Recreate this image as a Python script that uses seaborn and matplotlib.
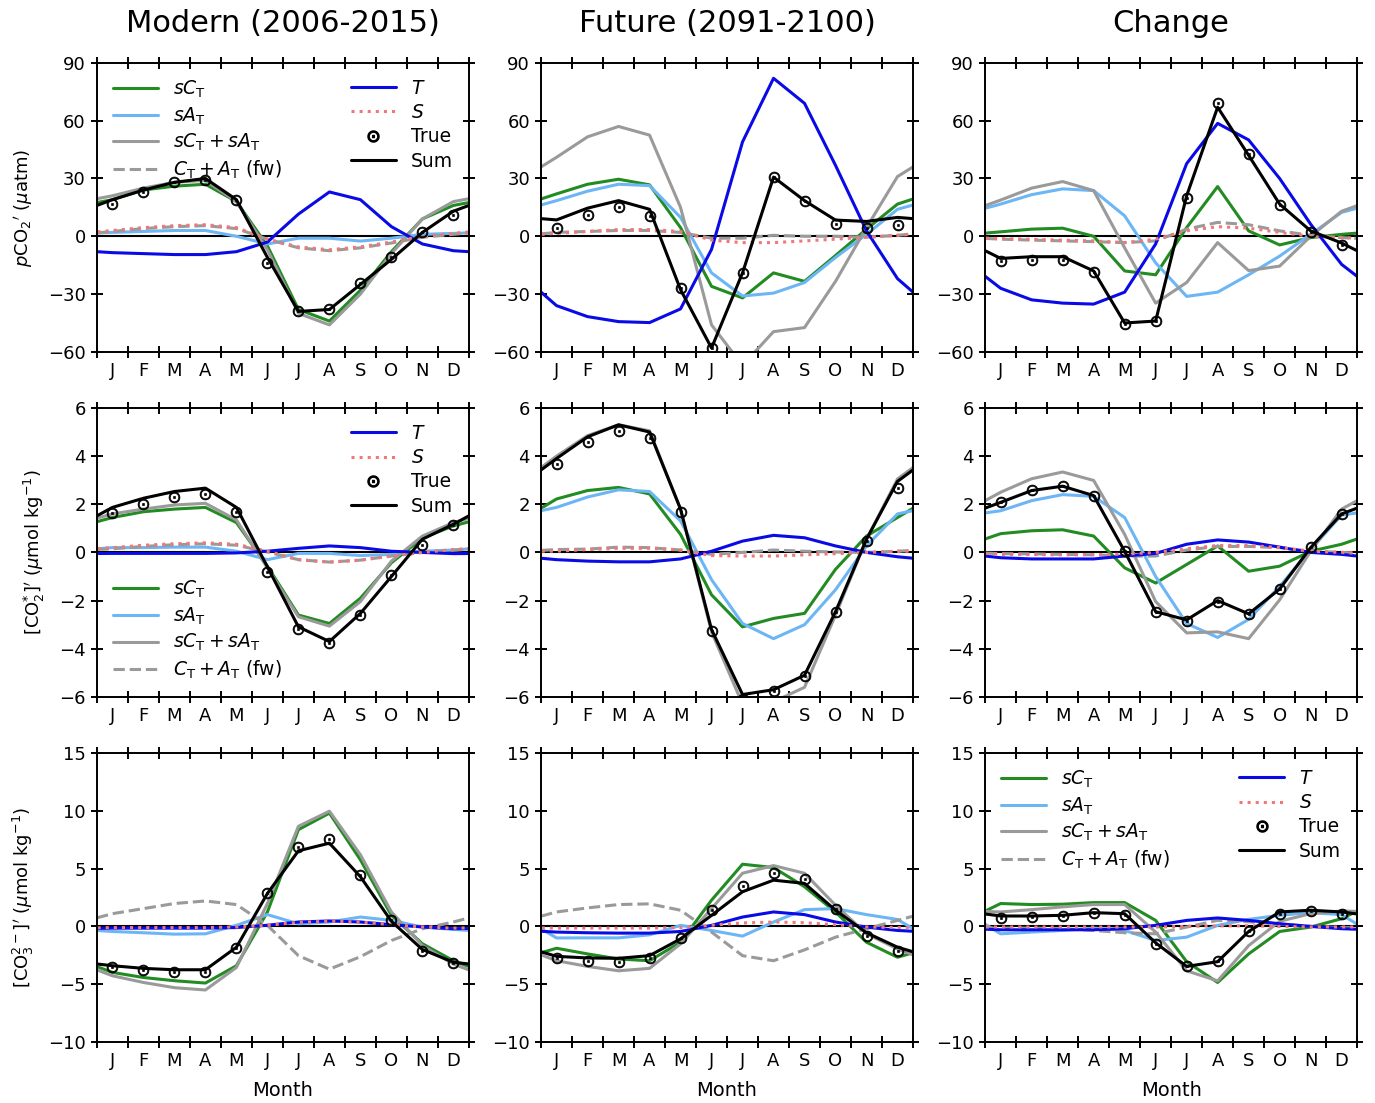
"""
Seasonal decomposition of pCO2', [CO2*]' and [CO3 2-]' anomalies:
Modern (2006-2015), Future (2091-2100) and their change.
"""

import numpy as np
import matplotlib
matplotlib.use('Agg')
import matplotlib.pyplot as plt
import seaborn as sns
from matplotlib.lines import Line2D
from matplotlib.ticker import FixedLocator, NullFormatter

sns.set_style('ticks')
plt.rcParams['font.family'] = ['DejaVu Sans']
plt.rcParams['mathtext.fontset'] = 'dejavusans'
plt.rcParams['axes.linewidth'] = 1.4
for key in ['text.color', 'axes.labelcolor', 'xtick.color', 'ytick.color', 'axes.edgecolor']:
    plt.rcParams[key] = 'black'

MONTHS = ['J', 'F', 'M', 'A', 'M', 'J', 'J', 'A', 'S', 'O', 'N', 'D']
COLUMN_TITLES = ['Modern (2006-2015)', 'Future (2091-2100)', 'Change']

# ---- pCO2' (uatm) ----
PCO2_MODERN = dict(
    sct=[19, 24, 26, 27, 18, -5, -38, -44, -28, -8, 9, 16],
    sat=[2, 2.5, 3, 3, 0, -4, -1, -1, -2.5, -1, 1, 1.5],
    both=[21, 25, 28, 29, 18, -7, -40, -46, -30, -9, 9, 18],
    fw=[2.5, 4, 5, 5.5, 4, -1.5, -6, -7.5, -6, -3.5, -0.5, 1],
    T=[-8.5, -9, -9.5, -9.5, -8, -3, 11.5, 23, 19, 5, -4, -7.5],
    S=[3, 4.5, 5.5, 6, 4.5, -1.5, -5.5, -7, -5.5, -3, 0, 1.5],
    true=[17, 23, 28, 29, 19, -14, -39, -38, -24, -11, 2, 11],
    sum=[19, 24, 28, 30, 19, -11, -39, -38, -25, -12, 2, 13],
)
PCO2_FUTURE = dict(
    sct=[22, 27, 29.6, 26.7, 4.5, -26, -32, -19, -23.4, -10, 3.7, 16.7],
    sat=[18.5, 23.4, 27, 26.3, 9.8, -19, -31, -29.5, -24, -11, 1, 14],
    both=[41, 51.6, 57, 52.5, 15, -46, -67, -49.5, -47.4, -23.4, 4.5, 31],
    fw=[2, 2.5, 3, 3, 2, -1, -1, 0.5, 0, 0, -0.5, 0.5],
    T=[-36, -41.7, -44.3, -44.8, -37.7, -6.8, 49, 82, 69, 36.8, 2.8, -22],
    S=[1.5, 2.5, 3.5, 3.5, 2.5, -2, -3.3, -3.3, -2.4, -1.5, -0.5, 0.5],
    true=[4.5, 11, 15.3, 10.3, -27, -58, -19, 30.7, 18.3, 6.3, 4.2, 6],
    sum=[8.5, 14.6, 18.5, 14, -27.7, -58, -19, 30.7, 18.5, 8.4, 7.7, 9.8],
)
PCO2_CHANGE = dict(
    sct=[2.3, 3.7, 4.2, 0, -18, -20, 4.5, 25.8, 2.8, -4.5, -0.7, 1],
    sat=[16.7, 21.6, 24.6, 23.7, 10.6, -13.8, -31.2, -29, -20, -10.3, 1, 12.4],
    both=[18.8, 25, 28.4, 23.7, -6, -34.7, -24, -3.3, -17.8, -15.5, 0, 13],
    fw=[-1.5, -2, -2.4, -2.8, -3.3, -2.4, 3.7, 7.2, 6, 2.8, 0.5, -0.7],
    T=[-27, -33, -34.7, -35.2, -29, -4, 37.7, 58.6, 50, 30, 6.3, -14.6],
    S=[-1.2, -1.6, -2, -2.4, -3.3, -1.5, 2.8, 5, 4.2, 2, 0, -0.7],
    true=[-13, -12.4, -12.4, -18.7, -45.7, -43.8, 20, 69, 42.5, 16.4, 2.4, -4.7],
    sum=[-11.5, -10.6, -10.6, -18, -45, -44, 21, 67, 42, 16.7, 2.8, -3.5],
)

# ---- [CO2*]' (umol/kg) ----
CO2_MODERN = dict(
    sct=[1.45, 1.69, 1.8, 1.87, 1.24, -0.57, -2.6, -2.95, -1.9, -0.43, 0.6, 1.1],
    sat=[0.2, 0.2, 0.22, 0.22, 0.05, -0.3, -0.04, -0.04, -0.13, -0.08, 0.05, 0.1],
    both=[1.6, 1.8, 1.97, 2.04, 1.35, -0.64, -2.67, -3.06, -2.04, -0.36, 0.68, 1.24],
    fw=[0.15, 0.25, 0.32, 0.36, 0.3, 0.02, -0.3, -0.4, -0.32, -0.15, 0, 0.1],
    T=[-0.04, -0.04, -0.04, -0.04, -0.02, 0.05, 0.17, 0.27, 0.2, 0.05, 0, -0.05],
    S=[0.2, 0.3, 0.36, 0.4, 0.34, 0.05, -0.3, -0.4, -0.32, -0.15, 0, 0.12],
    true=[1.62, 2.0, 2.32, 2.42, 1.66, -0.82, -3.17, -3.74, -2.6, -0.95, 0.31, 1.13],
    sum=[1.87, 2.25, 2.53, 2.67, 1.87, -0.6, -3.09, -3.7, -2.53, -1.0, 0.55, 1.17],
)
CO2_FUTURE = dict(
    sct=[2.22, 2.57, 2.7, 2.43, 0.75, -1.76, -3.09, -2.74, -2.53, -0.7, 0.68, 1.45],
    sat=[1.87, 2.3, 2.6, 2.53, 1.31, -1.13, -2.95, -3.58, -3.0, -1.55, 0.27, 1.6],
    both=[4.0, 4.85, 5.3, 5.05, 1.8, -3.3, -6.3, -6.2, -5.6, -2.6, 0.55, 3.05],
    fw=[0.12, 0.14, 0.22, 0.2, 0.1, -0.08, 0, 0.1, 0.05, 0.02, 0, 0.05],
    T=[-0.3, -0.36, -0.39, -0.39, -0.27, 0.05, 0.47, 0.71, 0.61, 0.27, 0, -0.18],
    S=[0.05, 0.12, 0.17, 0.17, 0.1, -0.13, -0.15, -0.15, -0.1, -0.05, 0, 0.05],
    true=[3.69, 4.57, 5.06, 4.76, 1.66, -3.27, -6.1, -5.77, -5.15, -2.49, 0.47, 2.67],
    sum=[3.9, 4.8, 5.3, 5.0, 1.8, -3.2, -5.9, -5.7, -5.1, -2.46, 0.55, 2.95],
)
CO2_CHANGE = dict(
    sct=[0.78, 0.9, 0.94, 0.68, -0.64, -1.27, -0.5, 0.27, -0.78, -0.57, 0.05, 0.34],
    sat=[1.73, 2.15, 2.4, 2.33, 1.45, -1.0, -2.95, -3.53, -2.78, -1.41, 0.12, 1.55],
    both=[2.5, 3.06, 3.34, 2.99, 0.75, -2.04, -3.34, -3.3, -3.58, -1.97, 0.05, 1.8],
    fw=[-0.05, -0.06, -0.08, -0.1, -0.15, -0.15, 0.1, 0.25, 0.25, 0.2, 0.05, 0],
    T=[-0.22, -0.27, -0.27, -0.27, -0.15, -0.04, 0.34, 0.52, 0.43, 0.22, 0, -0.08],
    S=[-0.08, -0.09, -0.1, -0.09, -0.07, 0, 0.15, 0.29, 0.29, 0.2, 0.05, 0],
    true=[2.08, 2.6, 2.75, 2.33, 0.05, -2.49, -2.84, -2.04, -2.57, -1.52, 0.22, 1.6],
    sum=[2.08, 2.57, 2.75, 2.36, 0.05, -2.46, -2.8, -2.0, -2.55, -1.52, 0.2, 1.6],
)

# ---- [CO3 2-]' (umol/kg) ----
CO3_MODERN = dict(
    sct=[-3.98, -4.42, -4.7, -4.9, -3.4, 1.25, 8.37, 9.8, 5.76, 0.96, -1.5, -2.97],
    sat=[-0.44, -0.55, -0.67, -0.64, 0.09, 1.02, 0.23, 0.38, 0.81, 0.52, -0.06, -0.26],
    both=[-4.27, -4.85, -5.3, -5.5, -3.55, 1.98, 8.66, 9.97, 6.2, 1.25, -1.66, -3.26],
    fw=[1.1, 1.54, 1.98, 2.2, 1.89, 0.09, -2.53, -3.7, -2.62, -1.22, -0.2, 0.38],
    T=[-0.15, -0.15, -0.15, -0.15, -0.1, 0.1, 0.38, 0.47, 0.38, 0.15, -0.05, -0.2],
    S=[-0.1, -0.1, -0.1, -0.1, -0.05, 0.1, 0.35, 0.45, 0.38, 0.15, -0.05, -0.15],
    true=[-3.55, -3.78, -3.92, -3.92, -1.86, 2.9, 6.86, 7.56, 4.45, 0.52, -2.1, -3.17],
    sum=[-3.4, -3.63, -3.75, -3.75, -1.8, 2.85, 6.54, 7.2, 4.3, 0.44, -2.0, -3.1],
)
CO3_FUTURE = dict(
    sct=[-1.89, -2.38, -2.82, -2.97, -1.37, 2.27, 5.38, 5.09, 3.43, 1.25, -1.37, -2.67],
    sat=[-1.0, -0.99, -0.99, -0.73, 0.09, -0.35, -0.84, 0.38, 1.45, 1.54, 1.02, 0.6],
    both=[-2.97, -3.46, -3.84, -3.63, -1.51, 1.54, 4.6, 5.26, 4.6, 1.83, -0.64, -1.95],
    fw=[1.25, 1.6, 1.89, 1.95, 1.4, -0.49, -2.53, -2.97, -2.03, -0.93, -0.2, 0.52],
    T=[-0.49, -0.55, -0.58, -0.58, -0.44, 0.09, 0.81, 1.25, 1.02, 0.38, -0.06, -0.35],
    S=[-0.15, -0.15, -0.15, -0.15, -0.1, 0.1, 0.3, 0.38, 0.32, 0.15, -0.05, -0.1],
    true=[-2.76, -2.97, -3.05, -2.73, -0.99, 1.4, 3.49, 4.65, 4.1, 1.54, -0.84, -2.09],
    sum=[-2.59, -2.73, -2.76, -2.53, -1.08, 0.96, 3.0, 4.0, 3.72, 1.4, -0.55, -1.8],
)
CO3_CHANGE = dict(
    sct=[1.98, 1.89, 1.92, 2.06, 2.06, 0.52, -3.05, -4.85, -2.38, -0.44, -0.06, 0.67],
    sat=[-0.64, -0.49, -0.35, -0.15, -0.35, -1.22, -0.93, 0.09, 0.61, 0.96, 1.19, 1.02],
    both=[1.25, 1.45, 1.69, 1.89, 1.89, -0.49, -3.84, -4.71, -1.66, 0.44, 1.1, 1.34],
    fw=[-0.15, -0.15, -0.2, -0.35, -0.55, -0.64, -0.06, 0.52, 0.4, 0.2, 0, -0.1],
    T=[-0.29, -0.29, -0.29, -0.29, -0.2, 0.09, 0.52, 0.73, 0.52, 0.23, 0, -0.2],
    S=[-0.05, -0.05, -0.05, -0.05, -0.05, -0.05, 0, 0.05, 0.05, 0, -0.05, -0.05],
    true=[0.76, 0.79, 0.87, 1.16, 1.02, -1.54, -3.4, -2.97, -0.38, 1.08, 1.34, 1.05],
    sum=[0.9, 0.9, 0.96, 1.19, 1.1, -1.42, -3.46, -3.05, -0.44, 1.25, 1.4, 1.25],
)

ROWS = [
    ([PCO2_MODERN, PCO2_FUTURE, PCO2_CHANGE], (-60, 90), np.arange(-60, 91, 30),
     r"$p\mathrm{CO_2}'$ ($\mu$atm)"),
    ([CO2_MODERN, CO2_FUTURE, CO2_CHANGE], (-6, 6), np.arange(-6, 7, 2),
     r"$[\mathrm{CO_2^{*}}]'$ ($\mu$mol kg$^{-1}$)"),
    ([CO3_MODERN, CO3_FUTURE, CO3_CHANGE], (-10, 15), np.arange(-10, 16, 5),
     r"$[\mathrm{CO_3^{2-}}]'$ ($\mu$mol kg$^{-1}$)"),
]

COLORS = {'sct': 'forestgreen', 'sat': '#6cb6f5', 'both': '#9a9a9a',
          'fw': '#9a9a9a', 'T': '#0a0ae6', 'S': '#f07878'}
STYLES = {'sct': '-', 'sat': '-', 'both': '-', 'fw': '--', 'T': '-', 'S': ':'}
LW = 2.2


def wrap(vals):
    """Pad with Dec before Jan and Jan after Dec so lines reach both edges."""
    x = np.arange(-0.5, 13, 1.0)
    y = [vals[-1]] + list(vals) + [vals[0]]
    return x, y


def draw_panel(ax, d):
    ax.axhline(0, color='k', lw=1.5, zorder=1)
    for key in ['sct', 'sat', 'both', 'fw', 'T', 'S']:
        x, y = wrap(d[key])
        sns.lineplot(x=x, y=y, ax=ax, color=COLORS[key], linestyle=STYLES[key], lw=LW, zorder=2)
    x, y = wrap(d['sum'])
    sns.lineplot(x=x, y=y, ax=ax, color='k', lw=LW, zorder=3)
    sns.scatterplot(x=np.arange(12) + 0.5, y=d['true'], ax=ax, marker=r'$\odot$', s=62,
                    color='k', edgecolor='k', linewidth=0.5, zorder=4)


def add_legends(ax, loc_left, loc_right):
    left_h = [Line2D([], [], color=COLORS[k], ls=STYLES[k], lw=LW) for k in ['sct', 'sat', 'both', 'fw']]
    left_l = [r'$sC_\mathrm{T}$', r'$sA_\mathrm{T}$', r'$sC_\mathrm{T} + sA_\mathrm{T}$',
              r'$C_\mathrm{T} + A_\mathrm{T}$ (fw)']
    right_h = [Line2D([], [], color=COLORS['T'], lw=LW),
               Line2D([], [], color=COLORS['S'], ls=':', lw=LW),
               Line2D([], [], color='k', ls='none', marker=r'$\odot$', markersize=8),
               Line2D([], [], color='k', lw=LW)]
    right_l = [r'$T$', r'$S$', 'True', 'Sum']
    kw = dict(frameon=False, fontsize=13.5, handlelength=2.4, labelspacing=0.28,
              handletextpad=0.8, borderaxespad=0.45)
    leg1 = ax.legend(left_h, left_l, loc=loc_left, **kw)
    ax.add_artist(leg1)
    ax.legend(right_h, right_l, loc=loc_right, **kw)


fig, axes = plt.subplots(3, 3, figsize=(13.75, 11.03), dpi=100)
plt.subplots_adjust(left=0.0705, right=0.987, bottom=0.0553, top=0.943, wspace=0.194, hspace=0.194)

for r, (panels, ylim, yticks, ylabel) in enumerate(ROWS):
    for c, d in enumerate(panels):
        ax = axes[r, c]
        draw_panel(ax, d)
        ax.set_xlim(0, 12)
        ax.set_ylim(*ylim)
        ax.set_yticks(yticks)
        ax.xaxis.set_major_locator(FixedLocator(range(13)))
        ax.xaxis.set_major_formatter(NullFormatter())
        ax.set_xticks(np.arange(12) + 0.5, minor=True)
        ax.set_xticklabels(MONTHS, minor=True)
        ax.tick_params(which='major', direction='inout', length=9, width=1.4,
                       top=True, right=True, labelsize=13)
        ax.tick_params(axis='x', which='minor', length=0, labelsize=13, pad=7)
        ax.set_ylabel(ylabel if c == 0 else '', fontsize=13, labelpad=9)
        ax.set_xlabel('Month' if r == 2 else '', fontsize=14, labelpad=8)
        if r == 0:
            ax.set_title(COLUMN_TITLES[c], fontsize=22, pad=22)

add_legends(axes[0, 0], 'upper left', 'upper right')
add_legends(axes[1, 0], 'lower left', 'upper right')
add_legends(axes[2, 2], 'upper left', 'upper right')

plt.savefig('out.png', dpi=100)
plt.close()
